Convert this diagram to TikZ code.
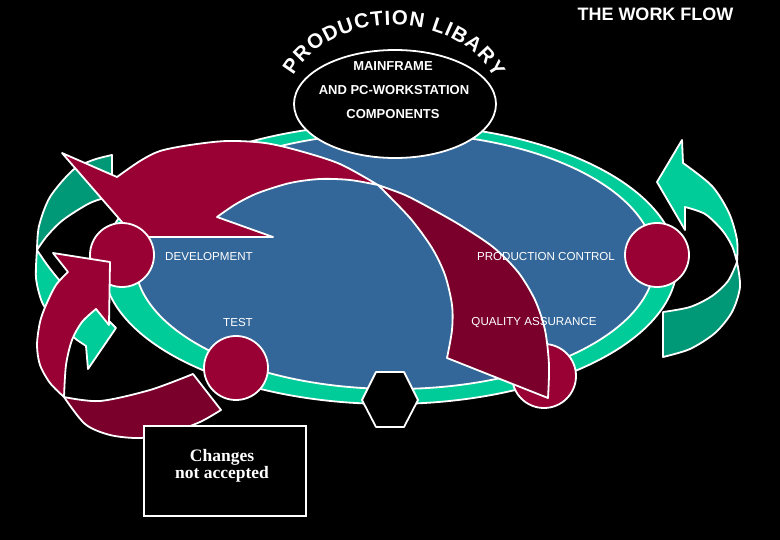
\documentclass[tikz,border=0pt]{standalone}
\usepackage{fontspec}
\setmainfont{Liberation Sans}
\newfontfamily\chgfont{Liberation Serif}
\usetikzlibrary{decorations.text}
\definecolor{ringgreen}{HTML}{00CC99}
\definecolor{darkgreen}{HTML}{009977}
\definecolor{wfblue}{HTML}{336699}
\definecolor{wfred}{HTML}{990033}
\definecolor{wfdark}{HTML}{7A002B}
\newcommand\arcfont{\fontsize{20.5}{20.5}\selectfont\bfseries}
\begin{document}
\begin{tikzpicture}[x=1pt,y=-1pt,
  outl/.style={draw=white, line width=1.8pt, line join=round},
  ball/.style={circle, minimum size=64pt, inner sep=0pt, fill=wfred, outl},
  lbl/.style={text=white, inner sep=0pt, font=\fontsize{11.6}{13}\selectfont},
  mftext/.style={text=white, inner sep=0pt, font=\fontsize{13}{15}\selectfont\bfseries}]
\useasboundingbox (0,0) rectangle (780,540);
\fill[black] (0,0) rectangle (780,540);

% ring and inner field
\path[fill=ringgreen, outl] (390,264) ellipse [x radius=287, y radius=140];
\path[fill=wfblue, outl] (395,261) ellipse [x radius=260, y radius=128];

% mainframe ellipse
\path[fill=black, outl] (395,104) ellipse [x radius=101, y radius=54];

% hexagon
\path[fill=black, outl] (362,400) -- (376,372) -- (404,372) -- (418,400) -- (404,427) -- (376,427) -- cycle;

% circles on the ring
\node[ball] (test) at (236,368) {};
\node[ball] (pc) at (657,255) {};
\node[ball] (qa) at (544,376) {};

% left green arrow
\path[fill=darkgreen, outl] (37,250) -- plot[smooth] coordinates {(37,250) (39,226) (50,197) (73,170) (93,160) (112,155)}
  -- (112,196) -- plot[smooth] coordinates {(112,196) (90,203) (63,220) (47,236) (37,250)} -- cycle;
\path[fill=ringgreen, outl] (37,250) -- plot[smooth] coordinates {(37,250) (36,278) (42,302) (54,320) (70,334)}
  -- (77,340) -- (86,346) -- (88,369) -- (116,328) -- (100,312)
  -- plot[smooth] coordinates {(100,312) (80,298) (62,283) (48,266) (37,250)} -- cycle;

% right green arrow
\path[fill=ringgreen, outl] (737,262) -- plot[smooth] coordinates {(737,262) (737,240) (729,213) (712,186) (683,163)}
  -- (682,140) -- (657,182) -- (685,230) -- (685,207)
  -- plot[smooth] coordinates {(685,207) (705,214) (722,230) (732,246) (737,262)} -- cycle;
\path[fill=darkgreen, outl] (737,262) -- plot[smooth] coordinates {(737,262) (740,287) (732,312) (715,333) (690,349) (663,357)}
  -- (663,312) -- plot[smooth] coordinates {(663,312) (690,307) (712,296) (728,281) (737,262)} -- cycle;

% big red arrow (top)
\path[fill=wfred, outl] (62,153) -- plot[smooth] coordinates {(117,177) (140,161) (160,151) (190,145) (227,141) (265,143) (300,151) (340,164) (378,185)}
  -- plot[smooth] coordinates {(378,185) (350,180) (320,179) (290,183) (258,193) (236,204) (217,217)}
  -- (273,237) -- (135,237) -- cycle;
\path[fill=wfdark, outl] (378,185) -- plot[smooth] coordinates {(378,185) (405,195) (430,208) (460,225) (493,247) (518,272) (535,300) (545,330) (549,365) (548,398)}
  -- (447,358) -- plot[smooth] coordinates {(447,358) (452,330) (452,305) (445,275) (432,248) (410,218) (378,185)} -- cycle;

\node[ball] (dev) at (122,255) {};

% lower-left red arrow
\path[fill=wfred, outl] (53,253) -- (110,262) -- (109,325) -- (96,309)
  -- plot[smooth] coordinates {(96,309) (82,322) (72,340) (66,365) (64,397)}
  -- plot[smooth] coordinates {(64,397) (50,383) (40,365) (37,345) (40,322) (46,305) (56,285) (68,272)} -- cycle;
\path[fill=wfdark, outl] (64,397) -- plot[smooth] coordinates {(64,397) (100,401) (150,390) (193,374)}
  -- (221,410) -- plot[smooth] coordinates {(221,410) (200,422) (170,433) (140,438) (110,435) (85,424) (64,397)} -- cycle;

% arc title
\path[decorate, decoration={text along path, text={|\arcfont|PRODUCTION LIBARY}, text align=fit to path, text color=white}]
  (293.4,75.4) arc[start angle=-156, end angle=-22, x radius=109, y radius=85];

% texts
\node[text=white, inner sep=0pt, font=\fontsize{18}{20}\selectfont\bfseries] (title) at (655.5,14) {THE WORK FLOW};
\node[mftext] (mf1) at (393,66) {MAINFRAME};
\node[mftext] (mf2) at (394,90.5) {AND PC-WORKSTATION};
\node[mftext] (mf3) at (393,114) {COMPONENTS};
\node[lbl] (ldev) at (209,256.5) {DEVELOPMENT};
\node[lbl] (ltest) at (238,322.8) {TEST};
\node[lbl] (lpc) at (546,256.7) {PRODUCTION CONTROL};
\node[lbl] (lqa) at (534,322.7) {QUALITY ASSURANCE};

\node[draw=white, line width=1.8pt, fill=black, minimum width=162pt, minimum height=90pt, inner sep=0pt] (box) at (225,471) {};
\node[text=white, align=center, inner sep=0pt, font=\chgfont\bfseries\fontsize{17.5}{16.5}\selectfont] (chg) at (222,466) {Changes\\not accepted};
\end{tikzpicture}
\end{document}
